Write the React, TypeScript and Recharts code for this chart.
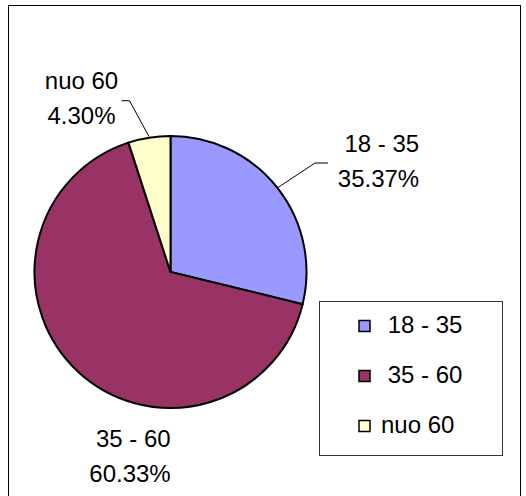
import React from "react";
import { PieChart, Pie, Cell, Legend } from "recharts";

// Category names (Excel source had a leading space on the first two)
const categories = [" 18 - 35", " 35 - 60", "nuo 60"];
// Slice shares as drawn in the picture
const shares = [28.8, 66.2, 5.0];
// Percent texts as printed on the data labels
const percentLabels = ["35.37%", "60.33%", "4.30%"];
const colors = ["#9999FF", "#993366", "#FFFFCC"];

const data = categories.map((name, i) => ({ name, value: shares[i], pct: percentLabels[i] }));

const FONT = "'Liberation Sans', Arial, sans-serif";
const RADIAN = Math.PI / 180;

// label placement relative to the pie centre (style/layout only)
const labelLayout = [
  { dx: 208, dy1: -120, dy2: -85, leader: [[144.5, -109], [157.5, -109]] },
  { dx: -40.5, dy1: 175, dy2: 210, leader: null },
  { dx: -89, dy1: -183, dy2: -148.5, leader: [[-41, -171.3], [-49, -171.3]] },
];

const renderLabel = (props: any) => {
  const { cx, cy, midAngle, outerRadius, index } = props;
  const lay = labelLayout[index];
  const d = data[index];
  const sx = cx + (outerRadius + 1) * Math.cos(-midAngle * RADIAN);
  const sy = cy + (outerRadius + 1) * Math.sin(-midAngle * RADIAN);
  return (
    <g key={`lbl-${index}`}>
      {lay.leader && (
        <polyline
          points={`${sx},${sy} ${cx + lay.leader[0][0]},${cy + lay.leader[0][1]} ${cx + lay.leader[1][0]},${cy + lay.leader[1][1]}`}
          fill="none"
          stroke="#000"
          strokeWidth={1}
        />
      )}
      <text
        x={cx + lay.dx}
        y={cy + lay.dy1}
        textAnchor="middle"
        fontFamily={FONT}
        fontSize={24}
        fill="#000"
        style={{ whiteSpace: "pre" }}
      >
        {d.name}
      </text>
      <text
        x={cx + lay.dx}
        y={cy + lay.dy2}
        textAnchor="middle"
        fontFamily={FONT}
        fontSize={24}
        fill="#000"
      >
        {d.pct}
      </text>
    </g>
  );
};

const LegendBox = () => (
  <svg width={185} height={156} style={{ display: "block" }}>
    <rect x={0.5} y={0.5} width={183} height={154} fill="#fff" stroke="#333" strokeWidth={1} />
    {data.map((d, i) => (
      <g key={d.name}>
        <rect
          x={40}
          y={19.5 + i * 50}
          width={11}
          height={11}
          fill={colors[i]}
          stroke="#000"
          strokeWidth={1.5}
        />
        <text
          x={62}
          y={32 + i * 50}
          fontFamily={FONT}
          fontSize={24}
          fill="#000"
          style={{ whiteSpace: "pre" }}
        >
          {d.name}
        </text>
      </g>
    ))}
  </svg>
);

export default function App() {
  return (
    <div style={{ position: "absolute", left: 0, top: 0, width: 526, height: 496, background: "#fff", overflow: "hidden" }}>
      <div
        style={{
          position: "absolute",
          left: 8,
          top: 5,
          width: 513,
          height: 520,
          border: "1px solid #000",
          boxSizing: "border-box",
        }}
      />
      <div style={{ position: "absolute", left: 0, top: 0 }}>
        <PieChart width={526} height={496} margin={{ top: 0, right: 0, bottom: 0, left: 0 }}>
          <Pie
            data={data}
            dataKey="value"
            nameKey="name"
            cx={170.5}
            cy={272}
            outerRadius={136}
            startAngle={90}
            endAngle={-270}
            stroke="#000"
            strokeWidth={2}
            label={renderLabel}
            labelLine={false}
            isAnimationActive={false}
          >
            {data.map((d, i) => (
              <Cell key={d.name} fill={colors[i]} stroke="#000" strokeWidth={2} />
            ))}
          </Pie>
          <Legend
            content={() => <LegendBox />}
            wrapperStyle={{ position: "absolute", left: 319, top: 301, width: 185, height: 156 }}
          />
        </PieChart>
      </div>
    </div>
  );
}
